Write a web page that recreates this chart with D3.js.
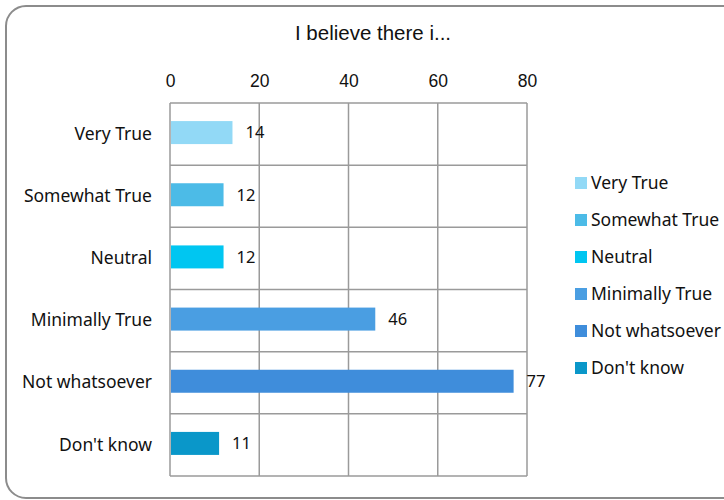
<!DOCTYPE html>
<html><head><meta charset="utf-8">
<script src="https://cdn.jsdelivr.net/npm/d3@7"></script>
<style>body{margin:0;background:#fff}svg{display:block}</style>
</head><body>
<script>
const categories = ["Very True","Somewhat True","Neutral","Minimally True","Not whatsoever","Don't know"];
const values = [14,12,12,46,77,11];
const colors = ["#92d9f6","#4cbbe7","#00c6f1","#4a9ee2","#3f8ddb","#0a97c9"];
const ticks = [0,20,40,60,80];
const title = "I believe there i...";

const W=724,H=500;
const svg=d3.select("body").append("svg").attr("width",W).attr("height",H);
svg.append("rect").attr("width",W).attr("height",H).attr("fill","#fff");
svg.append("rect").attr("x",6).attr("y",6).attr("width",740).attr("height",492)
  .attr("rx",20).attr("fill","none").attr("stroke","#8c8c8c").attr("stroke-width",2);

const L=170,R=527,T=103,B=476;
const x=d3.scaleLinear().domain([0,80]).range([L,R]);
const y=d3.scaleBand().domain(categories).range([T,B]).paddingInner(0).paddingOuter(0);

svg.append("text").attr("x",373).attr("y",40).attr("text-anchor","middle")
  .attr("font-family","Liberation Sans, Arial, sans-serif").attr("font-size",20.5).attr("fill","#111").text(title);

const g=svg.append("g");
g.selectAll("line.v").data(ticks).join("line").attr("class","v")
  .attr("x1",d=>x(d)).attr("x2",d=>x(d)).attr("y1",T).attr("y2",B)
  .attr("stroke","#9a9a9a").attr("stroke-width",1.5);
const seps=categories.map(c=>y(c)).concat([B]);
g.selectAll("line.h").data(seps).join("line").attr("class","h")
  .attr("x1",L).attr("x2",R).attr("y1",d=>d).attr("y2",d=>d)
  .attr("stroke","#9a9a9a").attr("stroke-width",1.5);

const ax=svg.append("g").attr("transform",`translate(0,${T})`)
  .call(d3.axisTop(x).tickValues(ticks).tickSize(0).tickPadding(16));
ax.select(".domain").remove();
ax.selectAll("text").attr("font-family","Liberation Sans, Arial, sans-serif").attr("font-size",17.5).attr("fill","#111");

const ay=svg.append("g").attr("transform",`translate(${L},0)`)
  .call(d3.axisLeft(y).tickSize(0).tickPadding(18));
ay.select(".domain").remove();
ay.selectAll("text").attr("font-family","Noto Sans, sans-serif").attr("font-size",17.5).attr("fill","#111");

const bh=23;
svg.selectAll("rect.bar").data(categories).join("rect").attr("class","bar")
  .attr("x",x(0)+1).attr("y",d=>y(d)+y.bandwidth()/2-bh/2-1.5)
  .attr("width",(d,i)=>x(values[i])-x(0)-1).attr("height",bh)
  .attr("fill",(d,i)=>colors[i]);

svg.selectAll("text.val").data(categories).join("text").attr("class","val")
  .attr("x",(d,i)=>x(values[i])+13).attr("y",d=>y(d)+y.bandwidth()/2-1.5)
  .attr("dy","0.35em").attr("font-family","Noto Sans, sans-serif").attr("font-size",16.5).attr("fill","#111")
  .text((d,i)=>values[i]);

const lg=svg.append("g");
const ly=d3.scalePoint().domain(categories).range([183,368]);
lg.selectAll("rect").data(categories).join("rect")
  .attr("x",575).attr("y",d=>ly(d)-6).attr("width",12).attr("height",12).attr("fill",(d,i)=>colors[i]);
lg.selectAll("text").data(categories).join("text")
  .attr("x",591).attr("y",d=>ly(d)).attr("dy","0.35em")
  .attr("font-family","Noto Sans, sans-serif").attr("font-size",17.5).attr("fill","#111").text(d=>d);
</script>
</body></html>
